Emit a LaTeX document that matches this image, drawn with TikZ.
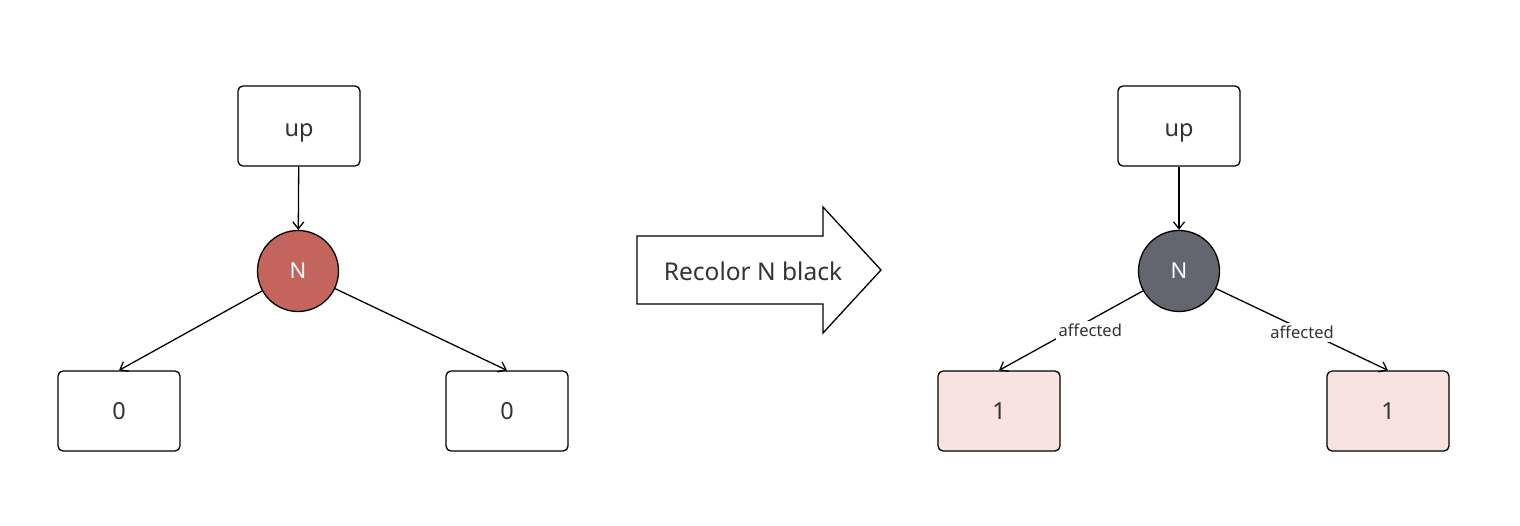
\documentclass[tikz,border=0pt]{standalone}
\usepackage{fontspec}
\setmainfont{Noto Sans}
\usetikzlibrary{arrows.meta,shapes.arrows}
\definecolor{redn}{HTML}{C4655D}
\definecolor{grayn}{HTML}{63666F}
\definecolor{pinkb}{HTML}{F8E3E1}
\definecolor{txt}{HTML}{333333}
\begin{document}
\begin{tikzpicture}[x=1pt,y=-1pt,
  box/.style={draw=black,line width=1.3pt,rounded corners=5pt,minimum width=122pt,minimum height=80pt,inner sep=0pt,font=\fontsize{23.5}{26}\selectfont,text=txt},
  circ/.style={draw=black,line width=1.3pt,circle,minimum size=81pt,inner sep=0pt,font=\fontsize{22}{24}\selectfont,text=white},
  edge/.style={draw=black,line width=1.3pt,-{Straight Barb[length=7pt,width=11pt]}},
  lab/.style={fill=white,inner sep=3pt,font=\fontsize{16.5}{18}\selectfont,text=txt}]
\useasboundingbox (0,0) rectangle (1520,526);
% left
\node[box] (up1) at (299,126) {\raisebox{-11pt}[0pt][0pt]{up}};
\node[circ,fill=redn] (n1) at (298,271) {N};
\node[box] (a1) at (119,411) {0};
\node[box] (b1) at (507,411) {0};
\draw[edge] (up1) -- (n1);
\draw[edge] (n1) -- (a1.north);
\draw[edge] (n1) -- (b1.north);
% arrow
\draw[line width=1.3pt,fill=white] (637,236) -- (823,236) -- (823,207) -- (881,270) -- (823,333) -- (823,304) -- (637,304) -- cycle;
\node[font=\fontsize{24.5}{28}\selectfont,text=txt] (lbl) at (753,271) {Recolor N black};
% right
\node[box] (up2) at (1179,126) {\raisebox{-11pt}[0pt][0pt]{up}};
\node[circ,fill=grayn] (n2) at (1179,271) {N};
\node[box,fill=pinkb] (a2) at (999,411) {1};
\node[box,fill=pinkb] (b2) at (1388,411) {1};
\draw[edge] (up2) -- (n2);
\draw[edge] (n2) -- node[lab,pos=0.47,xshift=15pt,yshift=-2pt] {affected} (a2.north);
\draw[edge] (n2) -- node[lab,pos=0.5,yshift=-3pt] {affected} (b2.north);
\end{tikzpicture}
\end{document}
